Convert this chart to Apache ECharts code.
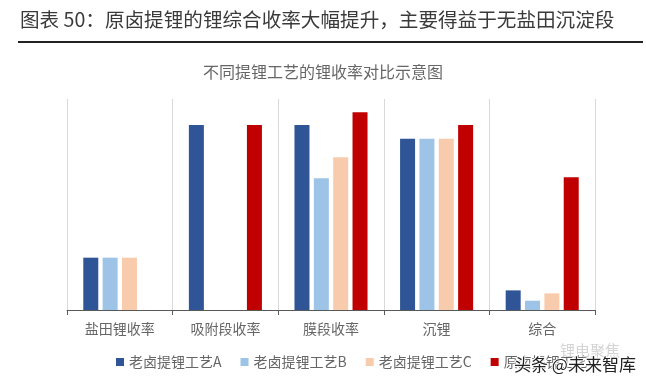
<!DOCTYPE html>
<html>
<head>
<meta charset="utf-8">
<script src="https://cdn.jsdelivr.net/npm/echarts@6/dist/echarts.min.js"></script>
<style>
html,body{margin:0;padding:0;background:#fff;}
#c{width:646px;height:384px;}
</style>
</head>
<body>
<div id="c"></div>
<script>
var pageTitle = '图表 50：原卤提锂的锂综合收率大幅提升，主要得益于无盐田沉淀段';
var chartTitle = '不同提锂工艺的锂收率对比示意图';
var categories = ['盐田锂收率', '吸附段收率', '膜段收率', '沉锂', '综合'];
var seriesNames = ['老卤提锂工艺A', '老卤提锂工艺B', '老卤提锂工艺C', '原卤提锂工艺'];
var valuesA = [24.8, 87.7, 87.7, 81.2, 9.3];
var valuesB = [24.8, null, 62.4, 81.2, 4.4];
var valuesC = [24.8, null, 72.4, 81.2, 7.9];
var valuesD = [null, 87.7, 93.7, 87.7, 62.9];
var colors = ['#2F5597', '#9DC3E6', '#F8CBAD', '#C00000'];

var FONT = '"Noto Sans CJK SC", "Noto Sans", sans-serif';
var chart = echarts.init(document.getElementById('c'), null, {renderer: 'canvas'});
var allValues = [valuesA, valuesB, valuesC, valuesD];
var series = seriesNames.map(function (n, i) {
  return {
    name: n,
    type: 'bar',
    data: allValues[i],
    barWidth: 15,
    barGap: '29%',
    itemStyle: {color: colors[i]},
    emphasis: {disabled: true}
  };
});
chart.setOption({
  animation: false,
  textStyle: {fontFamily: FONT},
  title: {
    text: chartTitle,
    left: 'center',
    top: 59,
    textStyle: {fontSize: 16, fontWeight: 'normal', color: '#666666', fontFamily: FONT}
  },
  graphic: [
    {type: 'text', left: 20, top: 10, style: {text: pageTitle, font: '19.6px ' + FONT, fill: '#3a3a3a'}},
    {type: 'line', shape: {x1: 18, y1: 42, x2: 643, y2: 42}, style: {stroke: '#222222', lineWidth: 2}},
    {type: 'text', left: 560, top: 343, z: 10, style: {text: '锂电聚焦', font: '15px ' + FONT, fill: '#d4d4d4'}},
    {type: 'text', left: 513, top: 355, z: 11, style: {text: '头条 @未来智库', font: '17px ' + FONT, fill: '#222222', stroke: '#ffffff', lineWidth: 2}}
  ],
  legend: {
    data: seriesNames,
    left: 116,
    top: 355,
    padding: 0,
    itemWidth: 8,
    itemHeight: 8,
    itemGap: 19,
    icon: 'rect',
    textStyle: {fontSize: 14, color: '#666666', fontFamily: FONT}
  },
  grid: {left: 67, right: 51, top: 99, bottom: 74, containLabel: false},
  xAxis: {
    type: 'category',
    data: categories,
    axisLine: {lineStyle: {color: '#595959', width: 1}},
    axisTick: {show: true, length: 5, lineStyle: {color: '#595959'}},
    splitLine: {show: true, lineStyle: {color: '#d9d9d9', width: 1}},
    axisLabel: {fontSize: 14, color: '#666666', margin: 12, fontFamily: FONT}
  },
  yAxis: {
    type: 'value',
    min: 0,
    max: 100,
    show: false,
    splitLine: {show: false}
  },
  series: series
});
</script>
</body>
</html>
